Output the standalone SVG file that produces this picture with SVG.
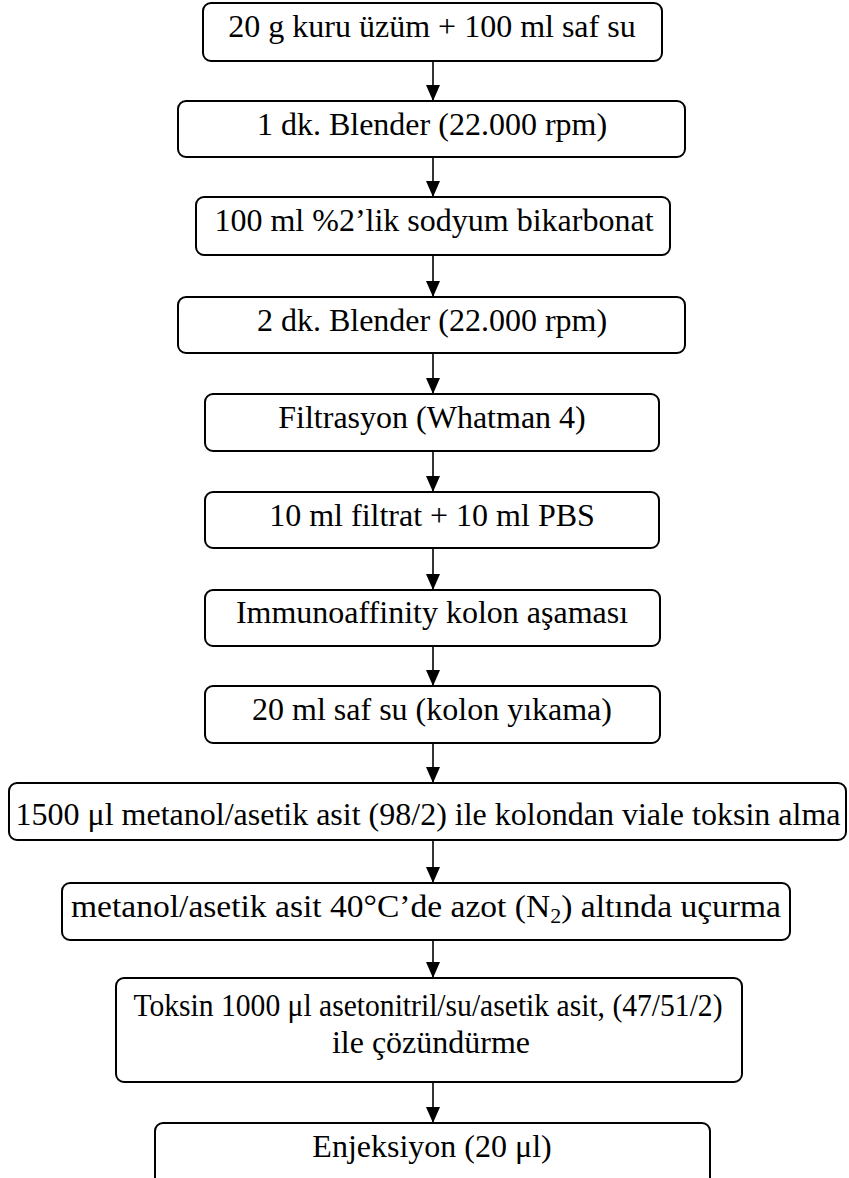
<svg xmlns="http://www.w3.org/2000/svg" width="849" height="1178" viewBox="0 0 849 1178">
<style>
.box{fill:#fff;stroke:#000;stroke-width:2}
.t{font-family:"Liberation Serif","Times New Roman",serif;font-size:32px;fill:#000;text-anchor:middle}
.c{stroke:#000;stroke-width:1.6;fill:none;marker-end:url(#ah)}
</style>
<defs>
<marker id="ah" markerUnits="userSpaceOnUse" markerWidth="16" markerHeight="14" refX="16" refY="7" orient="auto" viewBox="0 0 16 14">
<path d="M0,0 L16,7 L0,14 Z" fill="#000"/>
</marker>
</defs>
<rect width="849" height="1178" fill="#fff"/>
<g id="connectors">
<path class="c" d="M433,61 V101"/>
<path class="c" d="M433,157 V197"/>
<path class="c" d="M433,255 V297"/>
<path class="c" d="M433,353 V394"/>
<path class="c" d="M433,451 V492"/>
<path class="c" d="M433,548 V590"/>
<path class="c" d="M433,646 V686"/>
<path class="c" d="M433,743 V783"/>
<path class="c" d="M433,840 V883"/>
<path class="c" d="M433,940 V978"/>
<path class="c" d="M433,1082 V1123"/>
</g>
<g id="n1"><rect class="box" x="203" y="3" width="459" height="58" rx="8"/><text class="t" x="432" y="37">20 g kuru üzüm + 100 ml saf su</text></g>
<g id="n2"><rect class="box" x="178" y="101" width="507" height="56" rx="8"/><text class="t" x="432" y="135">1 dk. Blender (22.000 rpm)</text></g>
<g id="n3"><rect class="box" x="196" y="197" width="474" height="58" rx="8"/><text class="t" x="434" y="231">100 ml %2’lik sodyum bikarbonat</text></g>
<g id="n4"><rect class="box" x="178" y="297" width="507" height="56" rx="8"/><text class="t" x="432" y="331">2 dk. Blender (22.000 rpm)</text></g>
<g id="n5"><rect class="box" x="205" y="394" width="454" height="57" rx="8"/><text class="t" x="432" y="428">Filtrasyon (Whatman 4)</text></g>
<g id="n6"><rect class="box" x="205" y="492" width="454" height="56" rx="8"/><text class="t" x="432" y="526">10 ml filtrat + 10 ml PBS</text></g>
<g id="n7"><rect class="box" x="205" y="590" width="455" height="56" rx="8"/><text class="t" x="432" y="623">Immunoaffinity kolon aşaması</text></g>
<g id="n8"><rect class="box" x="205" y="686" width="455" height="57" rx="8"/><text class="t" x="432" y="720">20 ml saf su (kolon yıkama)</text></g>
<g id="n9"><rect class="box" x="9" y="783" width="837" height="57" rx="8"/><text class="t" x="428" y="825">1500 μl metanol/asetik asit (98/2) ile kolondan viale toksin alma</text></g>
<g id="n10"><rect class="box" x="62" y="883" width="728" height="57" rx="8"/><text class="t" x="426" y="917" textLength="710" lengthAdjust="spacingAndGlyphs">metanol/asetik asit 40°C’de azot (N<tspan font-size="21" dy="6">2</tspan><tspan dy="-6">) altında uçurma</tspan></text></g>
<g id="n11"><rect class="box" x="116" y="978" width="626" height="104" rx="8"/><text class="t" x="428" y="1016" textLength="589" lengthAdjust="spacingAndGlyphs">Toksin 1000 μl asetonitril/su/asetik asit, (47/51/2)</text><text class="t" x="431" y="1053">ile çözündürme</text></g>
<g id="n12"><rect class="box" x="155" y="1123" width="555" height="64" rx="8"/><text class="t" x="432" y="1157">Enjeksiyon (20 μl)</text></g>
</svg>
